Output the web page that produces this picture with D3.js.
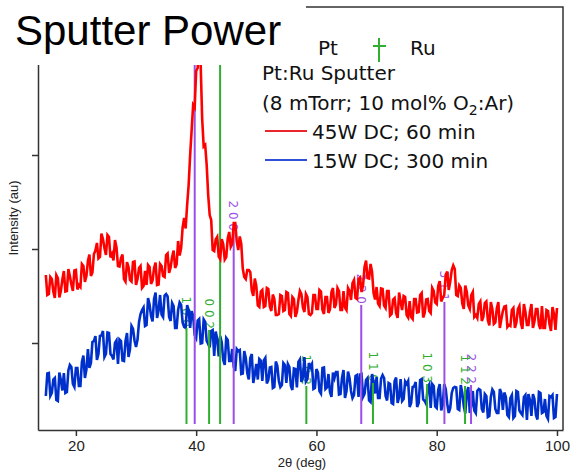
<!DOCTYPE html>
<html>
<head>
<meta charset="utf-8">
<script src="https://cdn.jsdelivr.net/npm/d3@7"></script>
<style>
  body { margin: 0; background: #fff; }
  svg { display: block; }
</style>
</head>
<body>
<div id="canva"></div>
<script>
// scans were read on a 0.25 deg grid: values at 15, 15.5 ... 100 and the
// in-between points at 15.25, 15.75 ... 99.75 are kept in two lists each
const twoTheta = d3.range(15, 100.1, 0.25);

// 45W DC; 60 min (counts, arbitrary)
const red45 = [
  1550,1360,1510,1320,1520,1390,1590,1390,1540,1390,
  1600,1450,1660,1480,1690,1540,1760,1870,1730,1910,
  1750,1930,1760,1900,1640,1720,1510,1680,1500,1680,
  1450,1620,1420,1590,1650,1460,1620,1450,1660,1540,
  1750,1570,1730,1620,1890,1820,2120,2250,2750,3250,
  3590,3950,3110,2850,2350,2100,1790,1930,1710,1860,
  1730,1980,1860,2070,1800,1860,1530,1600,1580,1340,
  1440,1230,1400,1240,1410,1190,1310,1150,1350,1190,
  1380,1160,1330,1130,1300,1360,1180,1330,1150,1350,
  1210,1400,1200,1330,1170,1380,1220,1420,1200,1390,
  1200,1390,1470,1320,1510,1380,1630,1520,1660,1370,
  1430,1240,1410,1220,1390,1160,1320,1120,1280,1340,
  1150,1290,1110,1310,1180,1370,1170,1310,1170,1390,
  1260,1490,1320,1550,1400,1600,1610,1340,1420,1210,
  1380,1210,1380,1150,1260,1090,1270,1100,1280,1060,
  1220,1020,1190,1240,1050,1200,1020,1210,1070,1260,
  1050,1180,1020,1210,1050,1240,1020,1190,990,1160,
  1220
];
const red45Mid = [
  1350,1530,1385,1550,1325,1505,1385,1610,1455,1595,
  1405,1430,1640,1540,1755,1575,1795,1715,1965,1820,
  1950,1725,1695,1825,1635,1755,1485,1630,1485,1685,
  1510,1640,1440,1450,1630,1495,1675,1455,1640,1530,
  1765,1625,1795,1655,1745,2025,2015,2450,3000,3225,
  3620,3655,2835,2650,2150,1800,1905,1735,1910,1705,
  1915,1830,2070,1885,1935,1615,1510,1600,1395,1515,
  1245,1385,1230,1420,1235,1355,1150,1160,1340,1200,
  1370,1140,1310,1180,1390,1225,1360,1160,1170,1350,
  1210,1385,1160,1330,1205,1420,1255,1390,1200,1225,
  1420,1300,1500,1310,1525,1445,1695,1515,1580,1305,
  1265,1415,1245,1390,1145,1305,1170,1375,1200,1330,
  1125,1130,1310,1175,1350,1125,1305,1190,1420,1275,
  1440,1285,1350,1585,1485,1645,1350,1445,1265,1445,
  1245,1350,1130,1120,1285,1130,1285,1045,1210,1075,
  1280,1110,1235,1030,1040,1220,1075,1240,1010,1180,
  1050,1260,1085,1210,1010,1020,1200,1060,1230,1000
];

// 15W DC; 300 min
const blue15 = [
  340,570,370,520,290,500,570,380,650,460,
  620,440,680,520,810,670,890,700,940,990,
  760,970,740,870,660,890,690,970,810,1010,
  830,1080,1200,1040,1320,1140,1310,1120,1350,1130,
  1360,1130,1270,1020,1200,1250,1030,1250,1020,1140,
  920,1110,870,1080,860,990,740,910,940,700,
  920,690,810,590,790,560,790,570,720,470,
  660,710,490,720,500,630,430,640,430,670,
  470,630,400,610,680,480,730,510,630,410,
  610,390,620,410,560,330,520,580,360,600,
  390,520,320,540,330,560,360,520,280,480,
  530,320,550,340,470,270,490,270,510,310,
  460,230,430,480,270,510,290,430,220,440,
  220,460,250,410,170,370,430,210,450,240,
  370,170,390,170,410,210,360,130,330,380,
  170,410,200,330,130,350,140,380,170,330,
  100,300,360,150,380,170,310,110,330,120,
  360
];
const blue15Mid = [
  565,340,505,300,575,395,370,595,630,430,
  620,440,745,605,620,880,940,760,945,730,
  975,760,705,895,905,695,890,730,1040,895,
  905,1160,1225,1050,1255,1085,1375,1195,1155,1345,
  1335,1090,1240,1020,1275,1075,1020,1200,1190,950,
  1095,865,1105,890,825,1000,985,735,875,650,
  900,690,630,810,800,565,720,505,760,555,
  505,695,695,465,625,420,685,490,450,650,
  660,440,615,425,705,525,485,670,660,420,
  575,365,625,425,380,575,580,355,520,320,
  585,390,350,550,555,330,500,295,560,365,
  320,515,520,295,460,260,525,330,290,485,
  490,270,435,230,500,305,260,455,460,235,
  400,195,460,265,220,420,425,200,370,165,
  430,240,195,390,400,175,340,140,405,210,
  170,370,375,150,320,120,390,195,150,350,
  360,140,310,105,370,180,140,340,350,130
];

// reference patterns
const ptPeaks   = [39.76, 46.24, 67.45, 81.28, 85.71];
const ptHeights = [4000, 1980, 1250, 1280, 450];
const ptHkl     = ["111", "200", "220", "311", "222"];

const ruPeaks   = [38.39, 42.15, 43.98, 58.32, 69.40, 78.40, 84.71];
const ruHeights = [1020, 1000, 4000, 440, 470, 460, 440];
const ruHkl     = ["100", "002", "101", "102", "110", "103", "112"];

const xTicks = [20, 40, 60, 80, 100];
const yTicks = [870, 1810, 2750, 3690];
const stickBase = 60;

const width = 570;
const height = 472;
const purple = "#9b4fe6";
const green = "#2fae2f";

function interleave(main, mid) {
    const out = [];
    main.forEach((v, i) => {
        out.push(v);
        if (i < mid.length) out.push(mid[i]);
    });
    return out;
}

const redScan = interleave(red45, red45Mid);
const blueScan = interleave(blue15, blue15Mid);

const svg = d3.select("#canva").append("svg")
    .attr("width", width)
    .attr("height", height);

const x = d3.scaleLinear()
    .domain([13.7, 101])
    .range([38, 563]);

const y = d3.scaleLinear()
    .domain([0, 4230])
    .range([430, 7]);

svg.append("clipPath").attr("id", "plot-clip")
  .append("rect")
    .attr("x", 38).attr("y", 7)
    .attr("width", 525).attr("height", 423);

const plot = svg.append("g").attr("clip-path", "url(#plot-clip)");

const peaks = ptPeaks.map((p, i) => ({angle: p, h: ptHeights[i], hkl: ptHkl[i], color: purple}))
    .concat(ruPeaks.map((p, i) => ({angle: p, h: ruHeights[i], hkl: ruHkl[i], color: green})));

// hkl labels sit under the scans; the two strongest run off the top, no label there
plot.append("g")
    .selectAll("text")
    .data(peaks.filter(d => d.h < 3000))
    .join("text")
        .attr("transform", d => `translate(${x(d.angle)},${y(d.h) - 1}) rotate(90)`)
        .attr("text-anchor", "end")
        .attr("dy", "0.36em")
        .attr("fill", d => d.color)
        .style("font-family", "'DejaVu Sans', sans-serif")
        .style("font-size", "12px")
        .text(d => d.hkl.split("").join(" "));

const line = d3.line()
    .x((d, i) => x(twoTheta[i]))
    .y(d => y(d));

plot.append("path")
    .datum(blueScan)
    .attr("fill", "none")
    .attr("stroke", "#0030cc")
    .attr("stroke-width", 2.6)
    .attr("d", line);

plot.append("g")
    .selectAll("line")
    .data(peaks)
    .join("line")
        .attr("x1", d => x(d.angle))
        .attr("x2", d => x(d.angle))
        .attr("y1", y(stickBase))
        .attr("y2", d => y(d.h))
        .attr("stroke", d => d.color)
        .attr("stroke-width", 2);

plot.append("path")
    .datum(redScan)
    .attr("fill", "none")
    .attr("stroke", "#ff0000")
    .attr("stroke-width", 2.6)
    .attr("d", line);

// axes
function xAxis(g) {
    g.attr("transform", "translate(0,430)")
        .call(d3.axisBottom(x).tickValues(xTicks).tickSize(6).tickSizeOuter(0).tickPadding(4));
    g.select(".domain").attr("stroke", "#333").attr("stroke-width", 1.5);
    g.selectAll(".tick line").attr("stroke", "#333").attr("stroke-width", 1.5);
    g.selectAll("text")
        .attr("fill", "#222")
        .style("font-family", "'Liberation Sans', Arial, sans-serif")
        .style("font-size", "15px");
}

function yAxis(g) {
    g.attr("transform", "translate(38,0)")
        .call(d3.axisLeft(y).tickValues(yTicks).tickFormat("").tickSize(6).tickSizeOuter(0));
    g.select(".domain").attr("stroke", "#333").attr("stroke-width", 1.5);
    g.selectAll(".tick line").attr("stroke", "#333").attr("stroke-width", 1.5);
}

svg.append("g").call(xAxis);
svg.append("g").call(yAxis);

svg.append("path")
    .attr("d", `M${x.range()[0]},${y.range()[1]}H${x.range()[1]}V${y.range()[0]}`)
    .attr("fill", "none")
    .attr("stroke", "#333")
    .attr("stroke-width", 1.5);

svg.append("text")
    .attr("x", 302)
    .attr("y", 467)
    .attr("text-anchor", "middle")
    .attr("fill", "#222")
    .style("font-family", "'Liberation Sans', Arial, sans-serif")
    .style("font-size", "13px")
    .text("2θ (deg)");

svg.append("text")
    .attr("transform", "translate(18,218) rotate(-90)")
    .attr("text-anchor", "middle")
    .attr("fill", "#222")
    .style("font-family", "'Liberation Sans', Arial, sans-serif")
    .style("font-size", "13px")
    .text("Intensity (au)");

// title box over the top-left corner
svg.append("rect")
    .attr("x", 0).attr("y", 0)
    .attr("width", 306).attr("height", 65)
    .attr("fill", "#fff");

svg.append("text")
    .attr("x", 15)
    .attr("y", 45)
    .attr("fill", "#000")
    .style("font-family", "'Liberation Sans', Arial, sans-serif")
    .style("font-size", "42px")
    .text("Sputter Power");

// legend
const legend = svg.append("g")
    .style("font-family", "'DejaVu Sans', sans-serif")
    .style("font-size", "20px")
    .attr("fill", "#111");

legend.append("text").attr("x", 318).attr("y", 55).text("Pt");
legend.append("text").attr("x", 410).attr("y", 55).text("Ru");
legend.append("path")
    .attr("d", "M379,38V62M373,46H386")
    .attr("stroke", green)
    .attr("stroke-width", 2);

legend.append("text").attr("x", 262).attr("y", 80).text("Pt:Ru Sputter");

const gas = legend.append("text").attr("x", 262).attr("y", 110);
gas.append("tspan").text("(8 mTorr; 10 mol% O");
gas.append("tspan").attr("dy", 5).style("font-size", "14px").text("2");
gas.append("tspan").attr("dy", -5).text(":Ar)");

const series = [
    {label: "45W DC; 60 min", color: "#e8262b", y: 131},
    {label: "15W DC; 300 min", color: "#3050d8", y: 160}
];

series.forEach(s => {
    legend.append("line")
        .attr("x1", 265).attr("x2", 307)
        .attr("y1", s.y).attr("y2", s.y)
        .attr("stroke", s.color)
        .attr("stroke-width", 2);
    legend.append("text")
        .attr("x", 312)
        .attr("y", s.y + 8)
        .text(s.label);
});
</script>
</body>
</html>
